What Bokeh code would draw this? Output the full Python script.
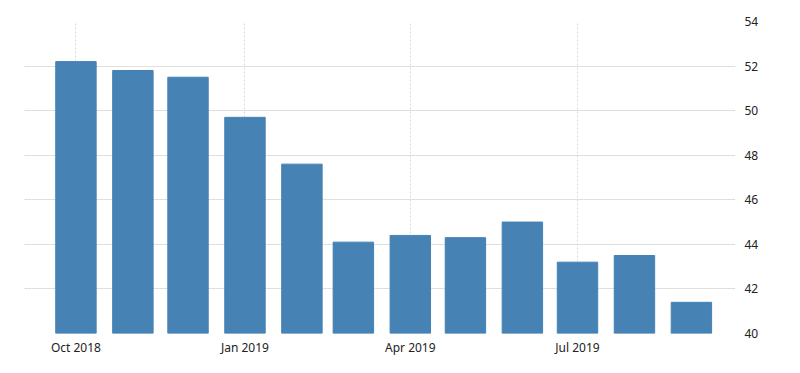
import pandas as pd
from bokeh.plotting import figure
from bokeh.models import LinearAxis, FixedTicker, DatetimeTickFormatter, Range1d, DatetimeAxis, Grid
from bokeh.embed import file_html
from bokeh.resources import INLINE

months = ["2018-10-01", "2018-11-01", "2018-12-01", "2019-01-01", "2019-02-01", "2019-03-01",
          "2019-04-01", "2019-05-01", "2019-06-01", "2019-07-01", "2019-08-01", "2019-09-01"]
values = [52.2, 51.8, 51.5, 49.7, 47.6, 44.1, 44.4, 44.3, 45.0, 43.2, 43.5, 41.4]
x_ticks = ["2018-10-01", "2019-01-01", "2019-04-01", "2019-07-01"]
y_ticks = [40, 42, 44, 46, 48, 50, 52, 54]

dates = pd.to_datetime(months)
DAY = 86400000

p = figure(width=784, height=357, frame_width=711, frame_height=312,
           x_axis_type=None, y_axis_location=None,
           output_backend="svg", toolbar_location=None,
           min_border_left=24, min_border_top=21, min_border_right=49, min_border_bottom=24)
p.x_range = Range1d(pd.Timestamp("2018-09-03"), pd.Timestamp("2019-09-25"))
p.y_range = Range1d(40, 54)
p.outline_line_color = None

p.vbar(x=dates, top=values, bottom=40, width=22 * DAY, color="#4682B4")

xticker = FixedTicker(ticks=[pd.Timestamp(t).value // 10**6 for t in x_ticks])
xaxis = DatetimeAxis(ticker=xticker,
                     formatter=DatetimeTickFormatter(months="%b %Y", days="%b %Y", hours="%b %Y"))
xaxis.axis_line_color = None
xaxis.major_tick_line_color = None
xaxis.minor_tick_line_color = None
xaxis.major_tick_out = 0
xaxis.major_tick_in = 0
xaxis.major_label_text_font = "Noto Sans"
xaxis.major_label_text_font_size = "12px"
xaxis.major_label_text_color = "#222222"
xaxis.major_label_standoff = 5
p.add_layout(xaxis, "below")

yticker = FixedTicker(ticks=y_ticks)
yaxis = LinearAxis(ticker=yticker)
yaxis.axis_line_color = None
yaxis.major_tick_line_color = None
yaxis.minor_tick_line_color = None
yaxis.major_tick_out = 0
yaxis.major_tick_in = 0
yaxis.major_label_text_font = "Noto Sans"
yaxis.major_label_text_font_size = "12px"
yaxis.major_label_text_color = "#222222"
yaxis.major_label_standoff = 9
p.add_layout(yaxis, "right")

xgrid = Grid(dimension=0, ticker=xticker)
ygrid = Grid(dimension=1, ticker=yticker)
for g in (xgrid, ygrid):
    g.grid_line_color = "#d9d9d9"
    g.grid_line_dash = "2 2"
    g.grid_line_width = 1
    p.add_layout(g)

open("out.html", "w").write(file_html(p, INLINE))
